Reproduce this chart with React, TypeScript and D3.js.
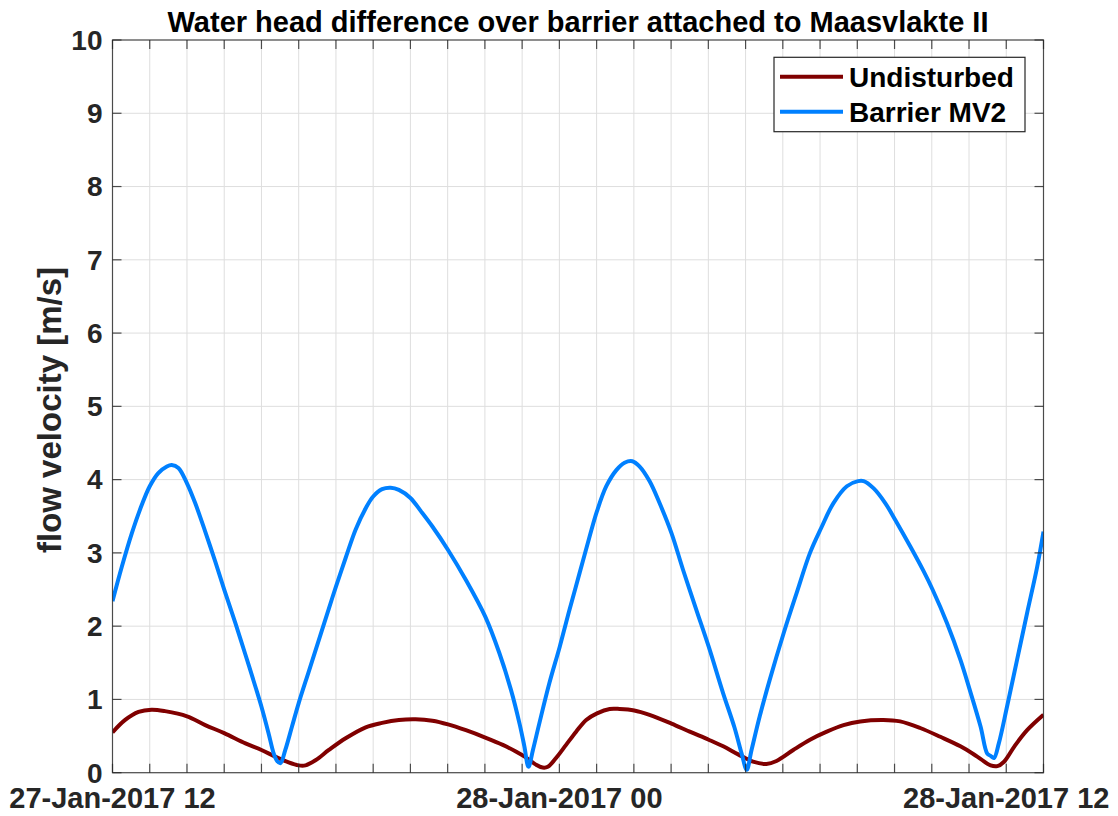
import React from "react";
import * as d3 from "d3";

// hours after 27-Jan-2017 12:00
const barrierHours = [
  0, 0.25, 0.52, 0.79, 1.0, 1.23, 1.46, 1.59, 1.77, 2.0, 2.22, 2.49, 2.76, 3.0, 3.3, 3.57, 3.84, 4.0, 4.19,
  4.33, 4.42, 4.51, 4.64, 4.82, 5.0, 5.27, 5.54, 5.81, 6.0, 6.26, 6.53, 6.8, 7.0, 7.24, 7.47, 7.69, 8.0,
  8.28, 8.59, 9.01, 9.49, 10.01, 10.39, 10.7, 10.93, 11.06, 11.17, 11.29, 11.46, 11.73, 12.01, 12.27,
  12.54, 12.81, 13.01, 13.26, 13.53, 13.75, 13.96, 14.15, 14.42, 14.69, 15.01, 15.32, 15.68, 16.01, 16.4,
  16.7, 16.9, 17.03, 17.16, 17.38, 17.65, 18.02, 18.37, 18.73, 19.03, 19.36, 19.72, 20.02, 20.17, 20.44,
  20.75, 21.02, 21.42, 21.78, 22.02, 22.41, 22.77, 23.02, 23.31, 23.49, 23.58, 23.67, 23.8, 24.02, 24.29,
  24.56, 24.83, 25.0,
];
const barrierValues = [
  2.34, 2.81, 3.27, 3.66, 3.91, 4.09, 4.18, 4.2, 4.16, 3.95, 3.68, 3.29, 2.88, 2.5, 2.04, 1.61, 1.17, 0.9,
  0.54, 0.26, 0.16, 0.13, 0.31, 0.63, 0.95, 1.38, 1.81, 2.24, 2.54, 2.93, 3.32, 3.61, 3.77, 3.87, 3.89,
  3.86, 3.75, 3.57, 3.36, 3.04, 2.63, 2.13, 1.63, 1.13, 0.67, 0.36, 0.08, 0.31, 0.67, 1.22, 1.72, 2.22,
  2.72, 3.22, 3.57, 3.91, 4.13, 4.23, 4.25, 4.18, 3.98, 3.68, 3.27, 2.77, 2.22, 1.72, 1.08, 0.62, 0.25,
  0.04, 0.31, 0.77, 1.27, 1.9, 2.45, 3.0, 3.34, 3.68, 3.91, 3.98, 3.98, 3.88, 3.68, 3.45, 3.09, 2.75, 2.5,
  2.04, 1.54, 1.13, 0.63, 0.26, 0.23, 0.2, 0.4, 0.9, 1.54, 2.18, 2.81, 3.29,
];

const undisturbedHours = [
  0, 0.34, 0.7, 1.05, 1.41, 2.0, 2.49, 3.0, 3.57, 4.0, 4.37, 4.73, 5.0, 5.18, 5.45, 5.81, 6.26, 6.8, 7.24,
  7.69, 8.14, 8.59, 9.01, 9.49, 10.01, 10.48, 10.83, 11.1, 11.37, 11.55, 11.69, 11.91, 12.18, 12.45,
  12.72, 13.01, 13.35, 13.62, 14.01, 14.42, 15.01, 15.5, 16.01, 16.4, 16.8, 17.2, 17.56, 17.83, 18.28,
  18.73, 19.18, 19.63, 20.08, 20.7, 21.15, 21.69, 22.23, 22.77, 23.22, 23.58, 23.76, 23.94, 24.22, 24.56,
  25.0,
];
const undisturbedValues = [
  0.55, 0.72, 0.83, 0.86, 0.84, 0.77, 0.65, 0.54, 0.4, 0.31, 0.22, 0.14, 0.1, 0.1, 0.17, 0.31, 0.47, 0.62,
  0.68, 0.72, 0.73, 0.71, 0.66, 0.58, 0.48, 0.38, 0.29, 0.21, 0.11, 0.07, 0.08, 0.2, 0.38, 0.56, 0.72,
  0.81, 0.87, 0.87, 0.85, 0.79, 0.67, 0.56, 0.45, 0.36, 0.25, 0.15, 0.12, 0.16, 0.31, 0.45, 0.56, 0.65,
  0.7, 0.72, 0.7, 0.61, 0.49, 0.36, 0.22, 0.1, 0.09, 0.15, 0.36, 0.58, 0.79,
];

const yTicks = [0, 1, 2, 3, 4, 5, 6, 7, 8, 9, 10];
const xLabelHours = [0, 12, 24];

const seriesNames = ["Undisturbed", "Barrier MV2"];
const seriesColors = ["#800000", "#0080ff"];

const titleText = "Water head difference over barrier attached to Maasvlakte II";
const yLabelText = "flow velocity [m/s]";

const W = 1118;
const H = 816;
const left = 112.5;
const right = 1043.5;
const top = 40;
const bottom = 772.7;
const axisColor = "#262626";
const font = "'Liberation Sans', Arial, Helvetica, sans-serif";

const t0 = new Date(2017, 0, 27, 12);
const atHour = (h: number) => new Date(t0.getTime() + h * 3600 * 1000);

export default function App() {
  const x = d3.scaleTime().domain([atHour(0), atHour(25)]).range([left, right]);
  const y = d3.scaleLinear().domain([0, 10]).range([bottom, top]);

  const hourTicks = x.ticks(d3.timeHour.every(1) as any);
  const fmt = d3.timeFormat("%d-%b-%Y %H");

  const line = d3
    .line<[Date, number]>()
    .x((d) => x(d[0]))
    .y((d) => y(d[1]))
    .curve(d3.curveCatmullRom.alpha(0.5));

  const undisturbed = undisturbedHours.map((h, i) => [atHour(h), undisturbedValues[i]] as [Date, number]);
  const barrier = barrierHours.map((h, i) => [atHour(h), barrierValues[i]] as [Date, number]);

  return (
    <svg
      width={W}
      height={H}
      style={{ position: "absolute", left: 0, top: 0, background: "#fff" }}
      fontFamily={font}
    >
      <rect x={0} y={0} width={W} height={H} fill="#fff" />
      {/* grid */}
      <g stroke="#dedede" strokeWidth={1}>
        {hourTicks.map((t, i) => (
          <line key={"gx" + i} x1={x(t)} x2={x(t)} y1={top} y2={bottom} />
        ))}
        {yTicks.map((v) => (
          <line key={"gy" + v} x1={left} x2={right} y1={y(v)} y2={y(v)} />
        ))}
      </g>

      {/* series */}
      <defs>
        <clipPath id="plot-clip">
          <rect x={left} y={top} width={right - left} height={bottom - top} />
        </clipPath>
      </defs>
      <g clipPath="url(#plot-clip)" fill="none" strokeWidth={4} strokeLinejoin="round">
        <path d={line(undisturbed) || ""} stroke={seriesColors[0]} />
        <path d={line(barrier) || ""} stroke={seriesColors[1]} />
      </g>

      {/* axes box and ticks */}
      <rect x={left} y={top} width={right - left} height={bottom - top} fill="none" stroke={axisColor} strokeWidth={1.2} opacity={0.8} />
      <g stroke={axisColor} strokeWidth={1.2} opacity={0.8}>
        {hourTicks.map((t, i) => (
          <g key={"tx" + i}>
            <line x1={x(t)} x2={x(t)} y1={bottom} y2={bottom - 9} />
            <line x1={x(t)} x2={x(t)} y1={top} y2={top + 9} />
          </g>
        ))}
        {yTicks.map((v) => (
          <g key={"ty" + v}>
            <line x1={left} x2={left + 9} y1={y(v)} y2={y(v)} />
            <line x1={right} x2={right - 9} y1={y(v)} y2={y(v)} />
          </g>
        ))}
      </g>

      {/* tick labels */}
      <g fill={axisColor} fontSize={28} fontWeight="bold">
        {yTicks.map((v) => (
          <text key={"ly" + v} x={left - 10} y={y(v)} dy="0.35em" textAnchor="end">
            {v}
          </text>
        ))}
      </g>
      <g fill={axisColor} fontSize={29} fontWeight="bold">
        {xLabelHours.map((h) => (
          <text key={"lx" + h} x={x(atHour(h))} y={808} textAnchor="middle">
            {fmt(atHour(h))}
          </text>
        ))}
      </g>

      {/* y label */}
      <text
        transform={`translate(61,410) rotate(-90)`}
        textAnchor="middle"
        fontSize={33}
        fontWeight="bold"
        fill={axisColor}
      >
        {yLabelText}
      </text>

      {/* title */}
      <text x={(left + right) / 2} y={32} textAnchor="middle" fontSize={29} fontWeight="bold" fill="#000">
        {titleText}
      </text>

      {/* legend */}
      <g>
        <rect x={774} y={57.3} width={251} height={74.4} fill="#fff" stroke={axisColor} strokeWidth={1.2} opacity={1} />
        {seriesNames.map((name, i) => (
          <g key={name}>
            <line x1={780} x2={843} y1={76.7 + i * 35} y2={76.7 + i * 35} stroke={seriesColors[i]} strokeWidth={4} />
            <text x={849} y={76.7 + i * 35} dy="0.35em" fontSize={28} fontWeight="bold" fill="#000">
              {name}
            </text>
          </g>
        ))}
      </g>
    </svg>
  );
}
